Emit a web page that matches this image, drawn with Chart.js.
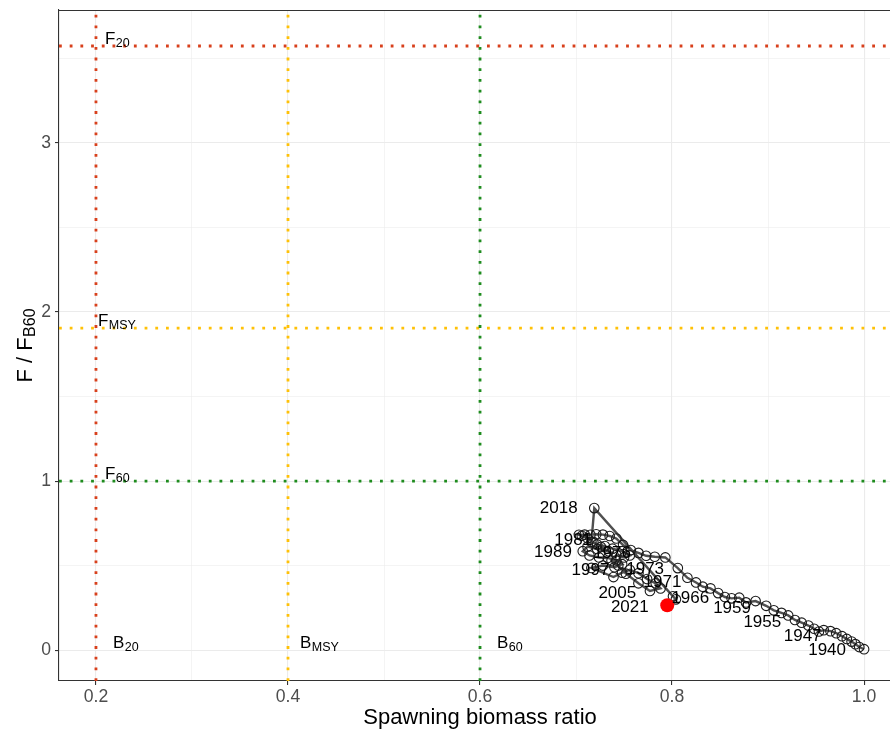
<!DOCTYPE html>
<html>
<head>
<meta charset="utf-8">
<script src="https://cdn.jsdelivr.net/npm/chart.js@4.4.1/dist/chart.umd.min.js"></script>
<style>
html,body{margin:0;padding:0;background:#ffffff;}
canvas{display:block;}
</style>
</head>
<body>
<canvas id="c" width="890" height="731"></canvas>
<script>
// ---------------- data ----------------
const years = [1940,1941,1942,1943,1944,1945,1946,1947,1948,1949,
               1950,1951,1952,1953,1954,1955,1956,1957,1958,1959,
               1960,1961,1962,1963,1964,1965,1966,1967,1968,1969,
               1970,1971,1972,1973,1974,1975,1976,1977,1978,1979,
               1980,1981,1982,1983,1984,1985,1986,1987,1988,1989,
               1990,1991,1992,1993,1994,1995,1996,1997,1998,1999,
               2000,2001,2002,2003,2004,2005,2006,2007,2008,2009,
               2010,2011,2012,2013,2014,2015,2016,2017,2018,2019,
               2020,2021];

// spawning biomass ratio (x)
const biomassRatio = [1.000,0.995,0.991,0.987,0.982,0.977,0.971,0.965,0.958,0.953,
                      0.948,0.942,0.935,0.928,0.921,0.914,0.906,0.898,0.887,0.877,
                      0.870,0.862,0.855,0.848,0.840,0.832,0.825,0.816,0.806,0.793,
                      0.782,0.773,0.765,0.757,0.749,0.742,0.735,0.728,0.721,0.715,
                      0.709,0.703,0.706,0.712,0.718,0.726,0.734,0.722,0.712,0.707,
                      0.714,0.724,0.733,0.742,0.748,0.740,0.728,0.716,0.739,0.748,
                      0.756,0.765,0.774,0.783,0.788,0.777,0.765,0.752,0.744,0.737,
                      0.742,0.750,0.756,0.748,0.738,0.730,0.722,0.716,0.719,0.801,
                      0.804,0.795];

// F / F_B60 (y)
const fRatio = [0.005,0.018,0.035,0.050,0.066,0.082,0.100,0.112,0.118,0.110,
                0.126,0.145,0.162,0.178,0.205,0.220,0.235,0.262,0.290,0.282,
                0.310,0.306,0.314,0.337,0.365,0.375,0.400,0.428,0.485,0.548,
                0.552,0.558,0.575,0.592,0.622,0.660,0.675,0.683,0.685,0.682,
                0.683,0.682,0.676,0.662,0.640,0.610,0.585,0.598,0.612,0.585,
                0.560,0.548,0.545,0.530,0.508,0.490,0.500,0.486,0.432,0.458,
                0.475,0.455,0.420,0.395,0.365,0.350,0.395,0.452,0.500,0.530,
                0.562,0.548,0.560,0.585,0.600,0.615,0.625,0.640,0.840,0.318,
                0.300,0.265];

// year labels and where they sit (data units)
const labelYears = [1940,1947,1955,1959,1966,1971,1973,1976,1981,1989,1997,2005,2018,2021];
const labelX     = [0.9615,0.936,0.894,0.8625,0.819,0.790,0.772,0.7375,0.697,0.676,0.715,0.743,0.682,0.756];
const labelY     = [0.000,0.083,0.166,0.248,0.308,0.400,0.479,0.574,0.650,0.580,0.473,0.337,0.840,0.254];

// reference points
const refB      = [0.2, 0.4, 0.6];          // B20, BMSY, B60
const refF      = [3.574, 1.905, 1.0];      // F20, FMSY, F60
const refSub    = ['20', 'MSY', '60'];
const refBLabelX = [0.2177, 0.4125, 0.6177];
const refFLabelX = [0.2094, 0.2020, 0.2094];

// axis tick labels
const xTickLabels = ['0.2','0.4','0.6','0.8','1.0'];
const yTickLabels = ['0','1','2','3'];

// ---------------- styling ----------------
const FONT = "'Liberation Sans', Arial, Helvetica, sans-serif";
const refColors = ['#D8401C', '#FFC107', '#1E8C1E'];
const xMin = 0.1615, xMax = 1.027, yMin = -0.183, yMax = 3.787;

Chart.defaults.font.family = FONT;

const datasets = [];
// main trajectory
datasets.push({
  type: 'scatter',
  data: years.map((yr, i) => ({x: biomassRatio[i], y: fRatio[i]})),
  showLine: true,
  borderColor: '#505050',
  borderWidth: 2.4,
  pointRadius: 4.8,
  pointHoverRadius: 4.8,
  pointBorderWidth: 1.1,
  pointBorderColor: '#1a1a1a',
  pointBackgroundColor: 'rgba(0,0,0,0)',
  order: 1
});
// last year in red
const last = years.length - 1;
datasets.push({
  type: 'scatter',
  data: [{x: biomassRatio[last], y: fRatio[last]}],
  pointRadius: 7,
  pointHoverRadius: 7,
  pointBorderWidth: 0,
  pointBackgroundColor: '#FF0000',
  showLine: false,
  order: 0
});
// reference lines
refB.forEach((b, i) => datasets.push({
  type: 'scatter', showLine: true,
  data: [{x: b, y: yMin}, {x: b, y: yMax}],
  borderColor: refColors[i], borderWidth: 2.8, borderDash: [2.8, 7.9], borderCapStyle: 'butt',
  pointRadius: 0, pointHoverRadius: 0, order: 10
}));
refF.forEach((f, i) => datasets.push({
  type: 'scatter', showLine: true,
  data: [{x: xMin, y: f}, {x: xMax, y: f}],
  borderColor: refColors[i], borderWidth: 2.8, borderDash: [2.8, 7.9], borderCapStyle: 'butt',
  pointRadius: 0, pointHoverRadius: 0, order: 10
}));

function subText(ctx, main, sub, px, py, size, subSize, subShift) {
  ctx.textAlign = 'left';
  ctx.textBaseline = 'alphabetic';
  ctx.font = size + 'px ' + FONT;
  ctx.fillText(main, px, py);
  const w = ctx.measureText(main).width;
  ctx.font = subSize + 'px ' + FONT;
  ctx.fillText(sub, px + w + 0.5, py + subShift);
}

const textPlugin = {
  id: 'texts',
  afterDatasetsDraw(chart) {
    const {ctx, scales: {x, y}} = chart;
    ctx.save();
    ctx.fillStyle = '#000000';
    // reference labels
    refB.forEach((b, i) => {
      subText(ctx, 'B', refSub[i], x.getPixelForValue(refBLabelX[i]), y.getPixelForValue(0) - 2, 17, 12.5, 3);
    });
    refF.forEach((f, i) => {
      subText(ctx, 'F', refSub[i], x.getPixelForValue(refFLabelX[i]), y.getPixelForValue(f) - 2, 17, 12.5, 3);
    });
    // year labels
    ctx.font = '17px ' + FONT;
    ctx.textAlign = 'center';
    ctx.textBaseline = 'middle';
    labelYears.forEach((yr, i) => {
      ctx.fillText(String(yr), x.getPixelForValue(labelX[i]), y.getPixelForValue(labelY[i]));
    });
    ctx.restore();
  },
  afterDraw(chart) {
    const {ctx, chartArea: ca} = chart;
    ctx.save();
    // top border of the panel
    ctx.strokeStyle = '#333333';
    ctx.lineWidth = 1.1;
    ctx.beginPath();
    ctx.moveTo(ca.left, ca.top + 0.5);
    ctx.lineTo(ca.right, ca.top + 0.5);
    ctx.stroke();
    // x title (centred on the full panel, which runs past the right edge)
    ctx.fillStyle = '#000000';
    ctx.font = '22px ' + FONT;
    ctx.textAlign = 'center';
    ctx.textBaseline = 'alphabetic';
    ctx.fillText('Spawning biomass ratio', (ca.left + ca.right) / 2 + 5.5, 724);
    // y title (rotated, with subscript)
    ctx.translate(32, (ca.top + ca.bottom) / 2);
    ctx.rotate(-Math.PI / 2);
    ctx.font = '22px ' + FONT;
    const mainW = ctx.measureText('F / F').width;
    ctx.font = '16px ' + FONT;
    const subW = ctx.measureText('B60').width;
    const total = mainW + subW + 0.5;
    subText(ctx, 'F / F', 'B60', -total / 2, 0, 22, 16, 3);
    ctx.restore();
  }
};

const isMajorX = v => Math.round(v * 10) % 2 === 0;
const isMajorY = v => Math.abs(v - Math.round(v)) < 1e-6;
const noPad = s => { s.paddingLeft = 0; s.paddingRight = 0; s.paddingTop = 0; s.paddingBottom = 0; };

new Chart(document.getElementById('c'), {
  type: 'scatter',
  data: {datasets},
  options: {
    responsive: false,
    devicePixelRatio: 1,
    animation: false,
    events: [],
    layout: {autoPadding: false, padding: {top: 10, left: 0, right: 0, bottom: 0}},
    plugins: {legend: {display: false}, tooltip: {enabled: false}},
    scales: {
      x: {
        type: 'linear', min: xMin, max: xMax,
        afterFit: s => { s.height = 50; noPad(s); },
        ticks: {
          stepSize: 0.1, includeBounds: false, autoSkip: false, maxRotation: 0,
          color: '#4D4D4D', font: {size: 17.6}, padding: 2,
          callback: v => isMajorX(v) ? xTickLabels[Math.round((v - 0.2) * 5)] : ''
        },
        grid: {
          color: '#EBEBEB',
          lineWidth: c => (c.tick && isMajorX(c.tick.value)) ? 1.1 : 0.55,
          tickColor: c => (c.tick && isMajorX(c.tick.value)) ? '#333333' : 'rgba(0,0,0,0)',
          tickLength: 4, tickWidth: 1.1
        },
        border: {display: true, color: '#333333', width: 1.1}
      },
      y: {
        type: 'linear', min: yMin, max: yMax,
        afterFit: s => { s.width = 59; noPad(s); },
        ticks: {
          stepSize: 0.5, includeBounds: false, autoSkip: false,
          color: '#4D4D4D', font: {size: 17.6}, padding: 4,
          callback: v => isMajorY(v) ? yTickLabels[Math.round(v)] : ''
        },
        grid: {
          color: '#EBEBEB',
          lineWidth: c => (c.tick && isMajorY(c.tick.value)) ? 1.1 : 0.55,
          tickColor: c => (c.tick && isMajorY(c.tick.value)) ? '#333333' : 'rgba(0,0,0,0)',
          tickLength: 4, tickWidth: 1.1
        },
        border: {display: true, color: '#333333', width: 1.1}
      }
    }
  },
  plugins: [textPlugin]
});
</script>
</body>
</html>
